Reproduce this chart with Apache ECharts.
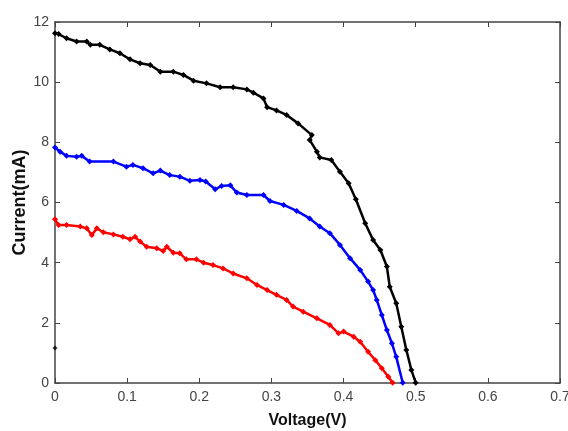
<!DOCTYPE html>
<html>
<head>
<meta charset="utf-8">
<script src="https://cdn.jsdelivr.net/npm/echarts@6/dist/echarts.min.js"></script>
<style>
  html, body { margin: 0; padding: 0; background: #fff; }
  #chart { width: 568px; height: 431px; }
</style>
</head>
<body>
<div id="chart"></div>
<script>
const xTicks = [0, 0.1, 0.2, 0.3, 0.4, 0.5, 0.6, 0.7];
const yTicks = [0, 2, 4, 6, 8, 10, 12];

const blackV = [0, 0.005, 0.016, 0.030, 0.044, 0.049, 0.062, 0.076, 0.090, 0.104, 0.118, 0.132, 0.146, 0.164, 0.178, 0.192, 0.210, 0.229, 0.247, 0.266, 0.275, 0.289, 0.294, 0.307, 0.321, 0.337, 0.356, 0.353, 0.363, 0.367, 0.383, 0.395, 0.407, 0.417, 0.430, 0.441, 0.451, 0.460, 0.464, 0.473, 0.480, 0.487, 0.494, 0.500];
const blackI = [11.63, 11.6, 11.46, 11.35, 11.35, 11.24, 11.24, 11.09, 10.96, 10.76, 10.63, 10.57, 10.35, 10.35, 10.24, 10.05, 9.96, 9.83, 9.83, 9.76, 9.65, 9.46, 9.17, 9.06, 8.91, 8.63, 8.24, 8.08, 7.69, 7.50, 7.41, 7.02, 6.64, 6.11, 5.31, 4.75, 4.42, 3.87, 3.20, 2.65, 1.87, 1.10, 0.43, 0.01];

const blueV = [0, 0.007, 0.016, 0.030, 0.037, 0.048, 0.081, 0.099, 0.108, 0.122, 0.136, 0.146, 0.159, 0.173, 0.187, 0.201, 0.209, 0.222, 0.231, 0.243, 0.252, 0.266, 0.289, 0.298, 0.317, 0.335, 0.353, 0.367, 0.381, 0.395, 0.409, 0.423, 0.434, 0.441, 0.446, 0.453, 0.460, 0.467, 0.473, 0.482];
const blueI = [7.83, 7.69, 7.55, 7.52, 7.55, 7.36, 7.36, 7.19, 7.25, 7.14, 6.97, 7.06, 6.91, 6.86, 6.72, 6.75, 6.70, 6.44, 6.55, 6.57, 6.33, 6.25, 6.25, 6.05, 5.92, 5.72, 5.47, 5.20, 4.98, 4.59, 4.15, 3.76, 3.37, 3.09, 2.76, 2.26, 1.76, 1.32, 0.87, 0.01];

const redV = [0, 0.005, 0.016, 0.035, 0.044, 0.051, 0.058, 0.067, 0.081, 0.094, 0.104, 0.111, 0.118, 0.127, 0.141, 0.150, 0.155, 0.164, 0.173, 0.182, 0.196, 0.206, 0.219, 0.233, 0.247, 0.266, 0.280, 0.294, 0.307, 0.321, 0.330, 0.344, 0.363, 0.381, 0.393, 0.400, 0.414, 0.423, 0.434, 0.444, 0.453, 0.462, 0.468];
const redI = [5.44, 5.25, 5.25, 5.20, 5.14, 4.92, 5.14, 5.01, 4.94, 4.86, 4.78, 4.86, 4.70, 4.53, 4.48, 4.39, 4.53, 4.33, 4.31, 4.11, 4.11, 4.00, 3.92, 3.81, 3.64, 3.48, 3.26, 3.09, 2.93, 2.76, 2.54, 2.37, 2.15, 1.93, 1.65, 1.71, 1.54, 1.37, 1.04, 0.76, 0.49, 0.21, 0.01];

// lone black point on the current axis
const strayV = [0];
const strayI = [1.16];

const pairs = (xs, ys) => xs.map((x, i) => [x, ys[i]]);

const chart = echarts.init(document.getElementById("chart"));

const axisColor = "#444";
const labelStyle = { color: "#444", fontFamily: "Liberation Sans, Arial", fontSize: 14 };
const nameStyle = { color: "#111", fontFamily: "Liberation Sans, Arial", fontSize: 16, fontWeight: "bold" };

function curve(name, color, xs, ys) {
    return {
        name: name,
        type: "line",
        xAxisIndex: 0,
        yAxisIndex: 0,
        data: pairs(xs, ys),
        symbol: "diamond",
        symbolSize: 6,
        showSymbol: true,
        itemStyle: { color: color },
        lineStyle: { color: color, width: 2.5 },
        animation: false
    };
}

function boxAxis(pos, min, max, interval) {
    return {
        type: "value",
        position: pos,
        min: min, max: max, interval: interval,
        axisLine: { show: true, onZero: false, lineStyle: { color: axisColor, width: 1.5 } },
        axisTick: { show: true, inside: true, length: 5, lineStyle: { color: axisColor } },
        axisLabel: { show: false },
        splitLine: { show: false }
    };
}

const option = {
    backgroundColor: "#fff",
    grid: { left: 55, right: 8, top: 22, bottom: 48, outerBoundsMode: "none", containLabel: false },
    xAxis: [{
        type: "value",
        min: 0, max: 0.7, interval: 0.1,
        name: "Voltage(V)",
        nameLocation: "middle",
        nameGap: 30,
        nameMoveOverlap: false,
        nameTextStyle: nameStyle,
        axisLine: { show: true, onZero: false, lineStyle: { color: axisColor, width: 1.5 } },
        axisTick: { show: true, inside: true, length: 5, lineStyle: { color: axisColor } },
        axisLabel: Object.assign({ margin: 7, formatter: v => xTicks.includes(+v.toFixed(1)) ? String(+v.toFixed(1)) : "" }, labelStyle),
        splitLine: { show: false }
    }, boxAxis("top", 0, 0.7, 0.1)],
    yAxis: [{
        type: "value",
        min: 0, max: 12, interval: 2,
        name: "Current(mA)",
        nameLocation: "middle",
        nameGap: 26,
        nameMoveOverlap: false,
        nameTextStyle: Object.assign({}, nameStyle, { fontSize: 18 }),
        axisLine: { show: true, onZero: false, lineStyle: { color: axisColor, width: 1.5 } },
        axisTick: { show: true, inside: true, length: 5, lineStyle: { color: axisColor } },
        axisLabel: Object.assign({ margin: 6, formatter: v => yTicks.includes(v) ? String(v) : "" }, labelStyle),
        splitLine: { show: false }
    }, boxAxis("right", 0, 12, 2)],
    series: [
        curve("black", "#000000", blackV, blackI),
        curve("blue", "#0000ff", blueV, blueI),
        curve("red", "#ff0000", redV, redI),
        {
            name: "stray",
            type: "scatter",
            data: pairs(strayV, strayI),
            symbol: "diamond",
            symbolSize: 5,
            itemStyle: { color: "#000" },
            animation: false
        }
    ]
};

chart.setOption(option);
</script>
</body>
</html>
